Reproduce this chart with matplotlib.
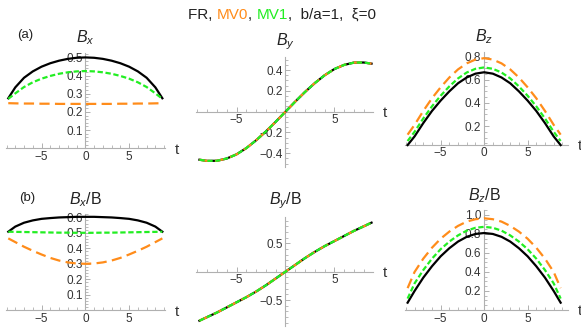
import matplotlib
matplotlib.use("Agg")
import matplotlib.pyplot as plt
from matplotlib.ticker import MultipleLocator, FixedLocator

plt.rcParams['font.family'] = ['Liberation Sans', 'DejaVu Sans']
plt.rcParams['mathtext.fontset'] = 'custom'
plt.rcParams['mathtext.rm'] = 'Liberation Sans'
plt.rcParams['mathtext.it'] = 'Liberation Sans:italic'

# ---------------- data ----------------
t = [-8.8, -8, -7, -6, -5, -4, -3, -2, -1, 0, 1, 2, 3, 4, 5, 6, 7, 8, 8.8]

bx_fr  = [0.275, 0.335, 0.388, 0.423, 0.449, 0.468, 0.482, 0.492, 0.498, 0.500,
          0.498, 0.492, 0.482, 0.468, 0.449, 0.423, 0.388, 0.335, 0.275]
bx_mv0 = [0.248, 0.247, 0.246, 0.246, 0.245, 0.245, 0.244, 0.244, 0.244, 0.244,
          0.244, 0.244, 0.244, 0.245, 0.245, 0.246, 0.246, 0.247, 0.248]
bx_mv1 = [0.272, 0.302, 0.337, 0.363, 0.383, 0.398, 0.410, 0.418, 0.423, 0.425,
          0.423, 0.418, 0.410, 0.398, 0.383, 0.363, 0.337, 0.302, 0.272]

by_fr  = [-0.462, -0.473, -0.472, -0.450, -0.410, -0.350, -0.275, -0.190, -0.097, 0.0,
          0.097, 0.190, 0.275, 0.350, 0.410, 0.450, 0.472, 0.473, 0.462]
by_mv0 = [-0.462, -0.473, -0.472, -0.450, -0.410, -0.350, -0.275, -0.190, -0.097, 0.0,
          0.097, 0.190, 0.275, 0.350, 0.410, 0.450, 0.472, 0.473, 0.462]
by_mv1 = [-0.462, -0.473, -0.472, -0.450, -0.410, -0.350, -0.275, -0.190, -0.097, 0.0,
          0.097, 0.190, 0.275, 0.350, 0.410, 0.450, 0.472, 0.473, 0.462]

bz_fr  = [0.035, 0.110, 0.225, 0.330, 0.420, 0.500, 0.570, 0.620, 0.653, 0.665,
          0.653, 0.620, 0.570, 0.500, 0.420, 0.330, 0.225, 0.110, 0.035]
bz_mv0 = [0.125, 0.210, 0.330, 0.440, 0.535, 0.620, 0.690, 0.742, 0.775, 0.787,
          0.775, 0.742, 0.690, 0.620, 0.535, 0.440, 0.330, 0.210, 0.125]
bz_mv1 = [0.070, 0.150, 0.265, 0.370, 0.462, 0.543, 0.612, 0.663, 0.695, 0.707,
          0.695, 0.663, 0.612, 0.543, 0.462, 0.370, 0.265, 0.150, 0.070]

bxb_fr  = [0.507, 0.540, 0.565, 0.580, 0.590, 0.595, 0.599, 0.601, 0.603, 0.603,
           0.603, 0.601, 0.599, 0.595, 0.590, 0.580, 0.565, 0.540, 0.507]
bxb_mv0 = [0.464, 0.440, 0.410, 0.384, 0.360, 0.338, 0.321, 0.309, 0.302, 0.300,
           0.302, 0.309, 0.321, 0.338, 0.360, 0.384, 0.410, 0.440, 0.464]
bxb_mv1 = [0.507, 0.506, 0.505, 0.504, 0.503, 0.502, 0.501, 0.501, 0.500, 0.500,
           0.500, 0.501, 0.501, 0.502, 0.503, 0.504, 0.505, 0.506, 0.507]

byb_fr  = [-0.865, -0.800, -0.720, -0.630, -0.540, -0.450, -0.350, -0.240, -0.120, 0.0,
           0.120, 0.240, 0.350, 0.450, 0.540, 0.630, 0.720, 0.800, 0.865]
byb_mv0 = [-0.865, -0.800, -0.720, -0.630, -0.540, -0.450, -0.350, -0.240, -0.120, 0.0,
           0.120, 0.240, 0.350, 0.450, 0.540, 0.630, 0.720, 0.800, 0.865]
byb_mv1 = [-0.865, -0.800, -0.720, -0.630, -0.540, -0.450, -0.350, -0.240, -0.120, 0.0,
           0.120, 0.240, 0.350, 0.450, 0.540, 0.630, 0.720, 0.800, 0.865]

bzb_fr  = [0.077, 0.200, 0.340, 0.460, 0.565, 0.650, 0.720, 0.770, 0.800, 0.810,
           0.800, 0.770, 0.720, 0.650, 0.565, 0.460, 0.340, 0.200, 0.077]
bzb_mv0 = [0.230, 0.400, 0.540, 0.655, 0.750, 0.825, 0.885, 0.930, 0.955, 0.965,
           0.955, 0.930, 0.885, 0.825, 0.750, 0.655, 0.540, 0.400, 0.230]
bzb_mv1 = [0.120, 0.280, 0.420, 0.540, 0.640, 0.720, 0.785, 0.835, 0.865, 0.875,
           0.865, 0.835, 0.785, 0.720, 0.640, 0.540, 0.420, 0.280, 0.120]

titles = [r'$B_x$', r'$B_y$', r'$B_z$', r'$B_x$/B', r'$B_y$/B', r'$B_z$/B']
x_ticks_full = [-5, 0, 5]
x_ticks_mid = [-5, 5]

# ---------------- style ----------------
W, H = 581, 331
C_FR = 'black'
C_MV0 = '#ff8c1a'
C_MV1 = '#22ee22'
AX_COL = '#b0b0b0'
TXT = '#333333'

fig = plt.figure(figsize=(W / 100, H / 100), dpi=100)


def make_ax(left, right, top, bottom, xlim, ylim):
    ax = fig.add_axes([left / W, 1 - bottom / H, (right - left) / W, (bottom - top) / H])
    ax.set_xlim(*xlim)
    ax.set_ylim(*ylim)
    ax.patch.set_alpha(0)
    for s in ('top', 'right'):
        ax.spines[s].set_visible(False)
    ax.spines['left'].set_position(('data', 0))
    ax.spines['left'].set_color(AX_COL)
    ax.spines['bottom'].set_color(AX_COL)
    ax.spines['left'].set_linewidth(0.8)
    ax.spines['bottom'].set_linewidth(0.8)
    ax.tick_params(which='both', direction='in', colors=AX_COL, labelcolor=TXT,
                   labelsize=8.5, pad=2)
    ax.tick_params(which='major', length=3.5, width=0.7)
    ax.tick_params(which='minor', length=2, width=0.6)
    ax.xaxis.set_minor_locator(MultipleLocator(1))
    return ax


def fmt_tick(v, nd):
    s = ('%.*f' % (nd, v))
    return s.replace('-', '\u2212')


def draw(ax, fr, mv0, mv1):
    ax.plot(t, fr, color=C_FR, lw=1.6, clip_on=False, zorder=3)
    ax.plot(t, mv0, color=C_MV0, lw=1.6, dashes=(4.6, 2.4), clip_on=False, zorder=4)
    ax.plot(t, mv1, color=C_MV1, lw=1.6, dashes=(2.4, 1.2), clip_on=False, zorder=5)


def set_yticks(ax, major, minor):
    ax.yaxis.set_major_locator(FixedLocator(major))
    ax.set_yticklabels([fmt_tick(v, 1) for v in major])
    ax.yaxis.set_minor_locator(MultipleLocator(minor))


def set_xticks(ax, major):
    ax.xaxis.set_major_locator(FixedLocator(major))
    ax.set_xticklabels([fmt_tick(v, 0) for v in major])


def t_label(ax, yval):
    ax.annotate('t', xy=(1, yval), xycoords=('axes fraction', 'data'),
                xytext=(7, -1), textcoords='offset points', ha='left', va='center',
                fontsize=11, color=TXT, annotation_clip=False)


# row (a)
a1 = make_ax(6, 165, 52.7, 148.2, (-9.06, 9.1), (0, 0.526))
draw(a1, bx_fr, bx_mv0, bx_mv1)
set_yticks(a1, [0.1, 0.2, 0.3, 0.4, 0.5], 0.02)
set_xticks(a1, x_ticks_full)
t_label(a1, 0)

a2 = make_ax(196, 373, 57.3, 166.7, (-9.15, 8.95), (-0.529, 0.523))
draw(a2, by_fr, by_mv0, by_mv1)
a2.spines['bottom'].set_position(('data', 0))
set_yticks(a2, [-0.4, -0.2, 0.2, 0.4], 0.05)
set_xticks(a2, x_ticks_mid)
t_label(a2, 0)

a3 = make_ax(405, 567.6, 51.7, 144.5, (-9.1, 9.6), (0.04, 0.843))
draw(a3, bz_fr, bz_mv0, bz_mv1)
set_yticks(a3, [0.2, 0.4, 0.6, 0.8], 0.05)
set_xticks(a3, x_ticks_full)
t_label(a3, 0.04)

# row (b)
b1 = make_ax(6, 165, 214.2, 310.3, (-9.06, 9.1), (0, 0.62))
draw(b1, bxb_fr, bxb_mv0, bxb_mv1)
set_yticks(b1, [0.1, 0.2, 0.3, 0.4, 0.5, 0.6], 0.02)
set_xticks(b1, x_ticks_full)
t_label(b1, 0)

b2 = make_ax(196, 373, 216.7, 326.1, (-9.15, 8.95), (-0.96, 0.97))
draw(b2, byb_fr, byb_mv0, byb_mv1)
b2.spines['bottom'].set_position(('data', 0))
set_yticks(b2, [-0.5, 0.5], 0.1)
set_xticks(b2, x_ticks_mid)
t_label(b2, 0)

b3 = make_ax(405, 567.6, 210.2, 310, (-9.1, 9.6), (0, 1.05))
draw(b3, bzb_fr, bzb_mv0, bzb_mv1)
set_yticks(b3, [0.2, 0.4, 0.6, 0.8, 1.0], 0.05)
set_xticks(b3, x_ticks_full)
t_label(b3, 0)

# panel titles
for ax, title in zip([a1, a2, a3, b1, b2, b3], titles):
    ax.annotate(title, xy=(0, 1), xycoords=('data', 'axes fraction'),
                xytext=(0, 4), textcoords='offset points', ha='center', va='bottom',
                fontsize=11.5, color='#222222', annotation_clip=False)

fig.text(25 / W, 1 - 35 / H, '(a)', fontsize=9.5, color='#222222', ha='center', va='center')
fig.text(27 / W, 1 - 198 / H, '(b)', fontsize=9.5, color='#222222', ha='center', va='center')

# figure title with coloured parts
parts = [('FR, ', '#222222'), ('MV0', C_MV0), (', ', '#222222'), ('MV1', C_MV1),
         (',  b/a=1,  \u03be=0', '#222222')]
last = fig.text(188 / W, 1 - 15 / H, parts[0][0], color=parts[0][1], fontsize=11,
                ha='left', va='center')
for s, c in parts[1:]:
    last = fig.axes[0].annotate(s, xy=(1, 0), xycoords=last, va='bottom', ha='left',
                                color=c, fontsize=11, annotation_clip=False)

fig.savefig('out.png', dpi=100)
